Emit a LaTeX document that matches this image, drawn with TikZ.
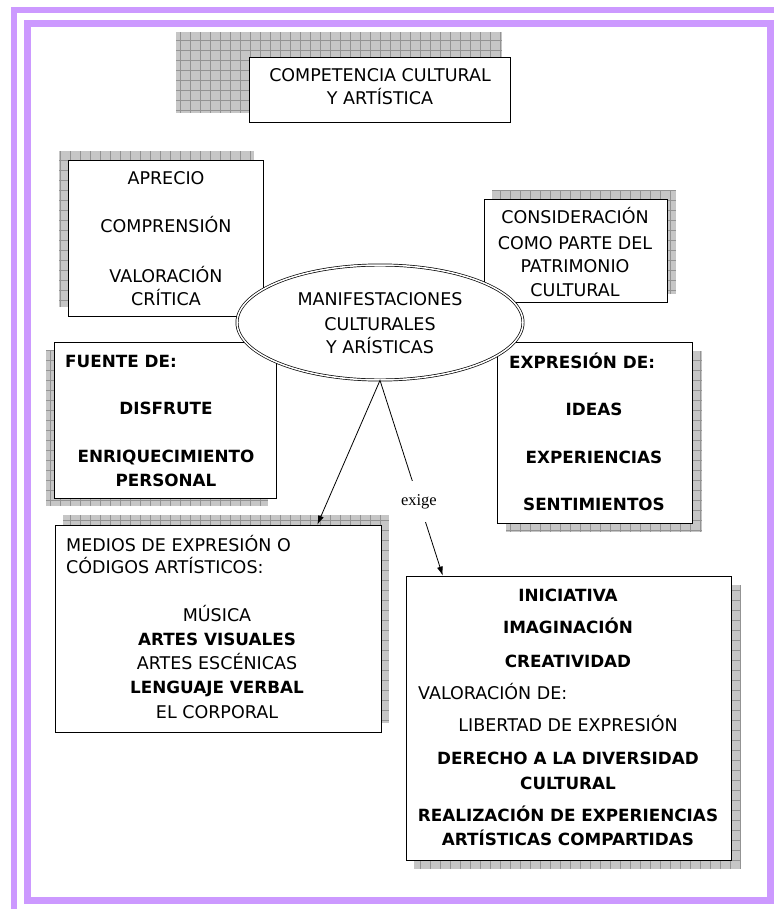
\documentclass[tikz,border=0pt]{standalone}
\usepackage{fontspec}
\setmainfont{DejaVu Sans}
\newfontfamily\romana{Liberation Serif}
\usepackage{xcolor}
\usetikzlibrary{calc, shapes.geometric, arrows.meta}
\definecolor{lila}{HTML}{CC99FF}
\newcommand{\letra}{\fontsize{17.5}{20}\selectfont}
\newcommand{\letrab}{\fontsize{16.8}{20}\selectfont\bfseries}

\tikzset{
	caja/.style={rectangle, draw=black, fill=white, line width=0.9pt, inner sep=0pt},
	sombra/.style={fill=gray!45, path picture={\draw[gray!85, line width=0.5pt, step=10pt] (path picture bounding box.south west) grid (path picture bounding box.north east);}},
	texto/.style={inner sep=0pt, anchor=base, font=\letra},
	negrita/.style={inner sep=0pt, anchor=base, font=\letrab},
	flecha/.style={line width=0.8pt, -{Latex[length=9pt,width=6pt]}}
}

\begin{document}
\begin{tikzpicture}[x=1pt, y=-1pt]
				\useasboundingbox (0,0) rectangle (774,909);
				
				%%% MARCO
				\draw[lila, line width=6pt] (14,909) -- (14,10) -- (774,10);
				\draw[lila, line width=7pt] (27.5,23.5) rectangle (770.5,900.5);
				
				%%% SOMBRAS
				\path[sombra] (176,32) rectangle (502,113);
				\path[sombra] (59,151) rectangle (254,307);
				\path[sombra] (492,190) rectangle (676,294);
				\path[sombra] (46,350) rectangle (268,506);
				\path[sombra] (506,351) rectangle (702,532);
				\path[sombra] (63,515) rectangle (389,723);
				\path[sombra] (414,585) rectangle (741,869);
				
				%%% CAJAS
				\node[caja, minimum width=261, minimum height=65] (titulo) at (379.5,89.5) {};
				\node[caja, minimum width=195, minimum height=156] (aprecio) at (165.5,238) {};
				\node[caja, minimum width=183, minimum height=103] (patrimonio) at (575.5,250.5) {};
				\node[caja, minimum width=222, minimum height=156] (fuente) at (165,420) {};
				\node[caja, minimum width=195, minimum height=181] (expresion) at (594.5,432.5) {};
				\node[caja, minimum width=326, minimum height=207] (medios) at (218,628.5) {};
				\node[caja, minimum width=325, minimum height=284] (iniciativa) at (568.5,718) {};
				
				%%% TEXTOS
				\node[texto] (titulo-1) at (380,82) {COMPETENCIA CULTURAL};
				\node[texto] (titulo-2) at (380,105) {Y ARTÍSTICA};
				
				\node[texto] (aprecio-1) at (166,185) {APRECIO};
				\node[texto] (aprecio-2) at (166,233) {COMPRENSIÓN};
				\node[texto] (aprecio-3) at (166,282) {VALORACIÓN};
				\node[texto] (aprecio-4) at (166,305) {CRÍTICA};
				
				\node[texto] (patrimonio-1) at (575,224) {CONSIDERACIÓN};
				\node[texto] (patrimonio-2) at (575,249) {COMO PARTE DEL};
				\node[texto] (patrimonio-3) at (575,272) {PATRIMONIO};
				\node[texto] (patrimonio-4) at (575,296) {CULTURAL};
				
				\node[negrita, anchor=base west] (fuente-1) at (65,367) {FUENTE DE:};
				\node[negrita] (fuente-2) at (166,414) {DISFRUTE};
				\node[negrita] (fuente-3) at (166,462) {ENRIQUECIMIENTO};
				\node[negrita] (fuente-4) at (166,486) {PERSONAL};
				
				\node[negrita, anchor=base west] (expresion-1) at (509,368) {EXPRESIÓN DE:};
				\node[negrita] (expresion-2) at (594,415) {IDEAS};
				\node[negrita] (expresion-3) at (594,463) {EXPERIENCIAS};
				\node[negrita] (expresion-4) at (594,510) {SENTIMIENTOS};
				
				\node[texto, anchor=base west] (medios-1) at (66,551) {MEDIOS DE EXPRESIÓN O};
				\node[texto, anchor=base west] (medios-2) at (66,573) {CÓDIGOS ARTÍSTICOS:};
				\node[texto] (medios-3) at (217,621) {MÚSICA};
				\node[negrita] (medios-4) at (217,645) {ARTES VISUALES};
				\node[texto] (medios-5) at (217,669) {ARTES ESCÉNICAS};
				\node[negrita] (medios-6) at (217,693) {LENGUAJE VERBAL};
				\node[texto] (medios-7) at (217,718) {EL CORPORAL};
				
				\node[negrita] (iniciativa-1) at (568,601) {INICIATIVA};
				\node[negrita] (iniciativa-2) at (568,633) {IMAGINACIÓN};
				\node[negrita] (iniciativa-3) at (568,667) {CREATIVIDAD};
				\node[texto, anchor=base west] (iniciativa-4) at (418,699) {VALORACIÓN DE:};
				\node[texto] (iniciativa-5) at (568,731) {LIBERTAD DE EXPRESIÓN};
				\node[negrita] (iniciativa-6) at (568,764) {DERECHO A LA DIVERSIDAD};
				\node[negrita] (iniciativa-7) at (568,789) {CULTURAL};
				\node[negrita] (iniciativa-8) at (568,821) {REALIZACIÓN DE EXPERIENCIAS};
				\node[negrita] (iniciativa-9) at (568,845) {ARTÍSTICAS COMPARTIDAS};
				
				%%% ELIPSE CENTRAL
				\node[ellipse, draw=black, line width=0.7pt, double, double distance=1.5pt, fill=white, minimum width=286, minimum height=115, inner sep=0pt] (manif) at (380,322.5) {};
				\node[texto] (manif-1) at (380,305) {MANIFESTACIONES};
				\node[texto] (manif-2) at (380,330) {CULTURALES};
				\node[texto] (manif-3) at (380,353) {Y ARÍSTICAS};
				
				%%% CONEXIONES
				\draw[flecha] (manif.south) -- ($(medios.north west)!0.804!(medios.north east)$);
				\draw[flecha] (manif.south) -- node[pos=0.62, fill=white, inner xsep=1pt, inner ysep=13pt, font=\romana\fontsize{16.5}{18}\selectfont] (exige) {exige} ($(iniciativa.north west)!0.114!(iniciativa.north east)$);
			\end{tikzpicture}
\end{document}
